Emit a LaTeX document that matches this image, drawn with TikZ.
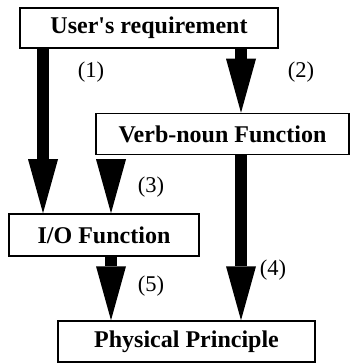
\documentclass[tikz,border=0pt]{standalone}
\usepackage{fontspec}
\setmainfont{Liberation Serif}
\usetikzlibrary{arrows.meta}
\begin{document}
\begin{tikzpicture}[x=1pt,y=-1pt,
  box/.style={draw, line width=1.5pt, rectangle, inner sep=0pt,
    font=\fontsize{24}{28}\selectfont\bfseries},
  lbl/.style={inner sep=0pt, font=\fontsize{22.5}{26}\selectfont},
  bigarrow/.style={line width=12pt,
    -{Triangle[width=30pt,length=54pt,line width=0pt]}}]
\useasboundingbox (0,0) rectangle (350,363);
\node[box, minimum width=258pt, minimum height=40pt] (ur) at (149,28) {User\textquotesingle s requirement};
\node[box, minimum width=253pt, minimum height=41pt] (vn) at (222.5,134) {Verb-noun Function};
\node[box, minimum width=190pt, minimum height=42pt] (io) at (104,235) {I/O Function};
\node[box, minimum width=257pt, minimum height=41pt] (pp) at (186.5,341.5) {Physical Principle};
\coordinate (xa) at (43,0);
\coordinate (xb) at (241,0);
\coordinate (xc) at (111,0);
\draw[bigarrow] (ur.south -| xa) -- (io.north -| xa);
\draw[bigarrow] (ur.south -| xb) -- (vn.north -| xb);
\draw[bigarrow, shorten <=4pt] (vn.south -| xc) -- (io.north -| xc);
\draw[bigarrow] (vn.south -| xb) -- (pp.north -| xb);
\draw[bigarrow] (io.south -| xc) -- (pp.north -| xc);
\node[lbl] (l1) at (91,72) {(1)};
\node[lbl] (l2) at (301,72) {(2)};
\node[lbl] (l3) at (151,187) {(3)};
\node[lbl] (l4) at (273,270) {(4)};
\node[lbl] (l5) at (151,286) {(5)};
\end{tikzpicture}
\end{document}
